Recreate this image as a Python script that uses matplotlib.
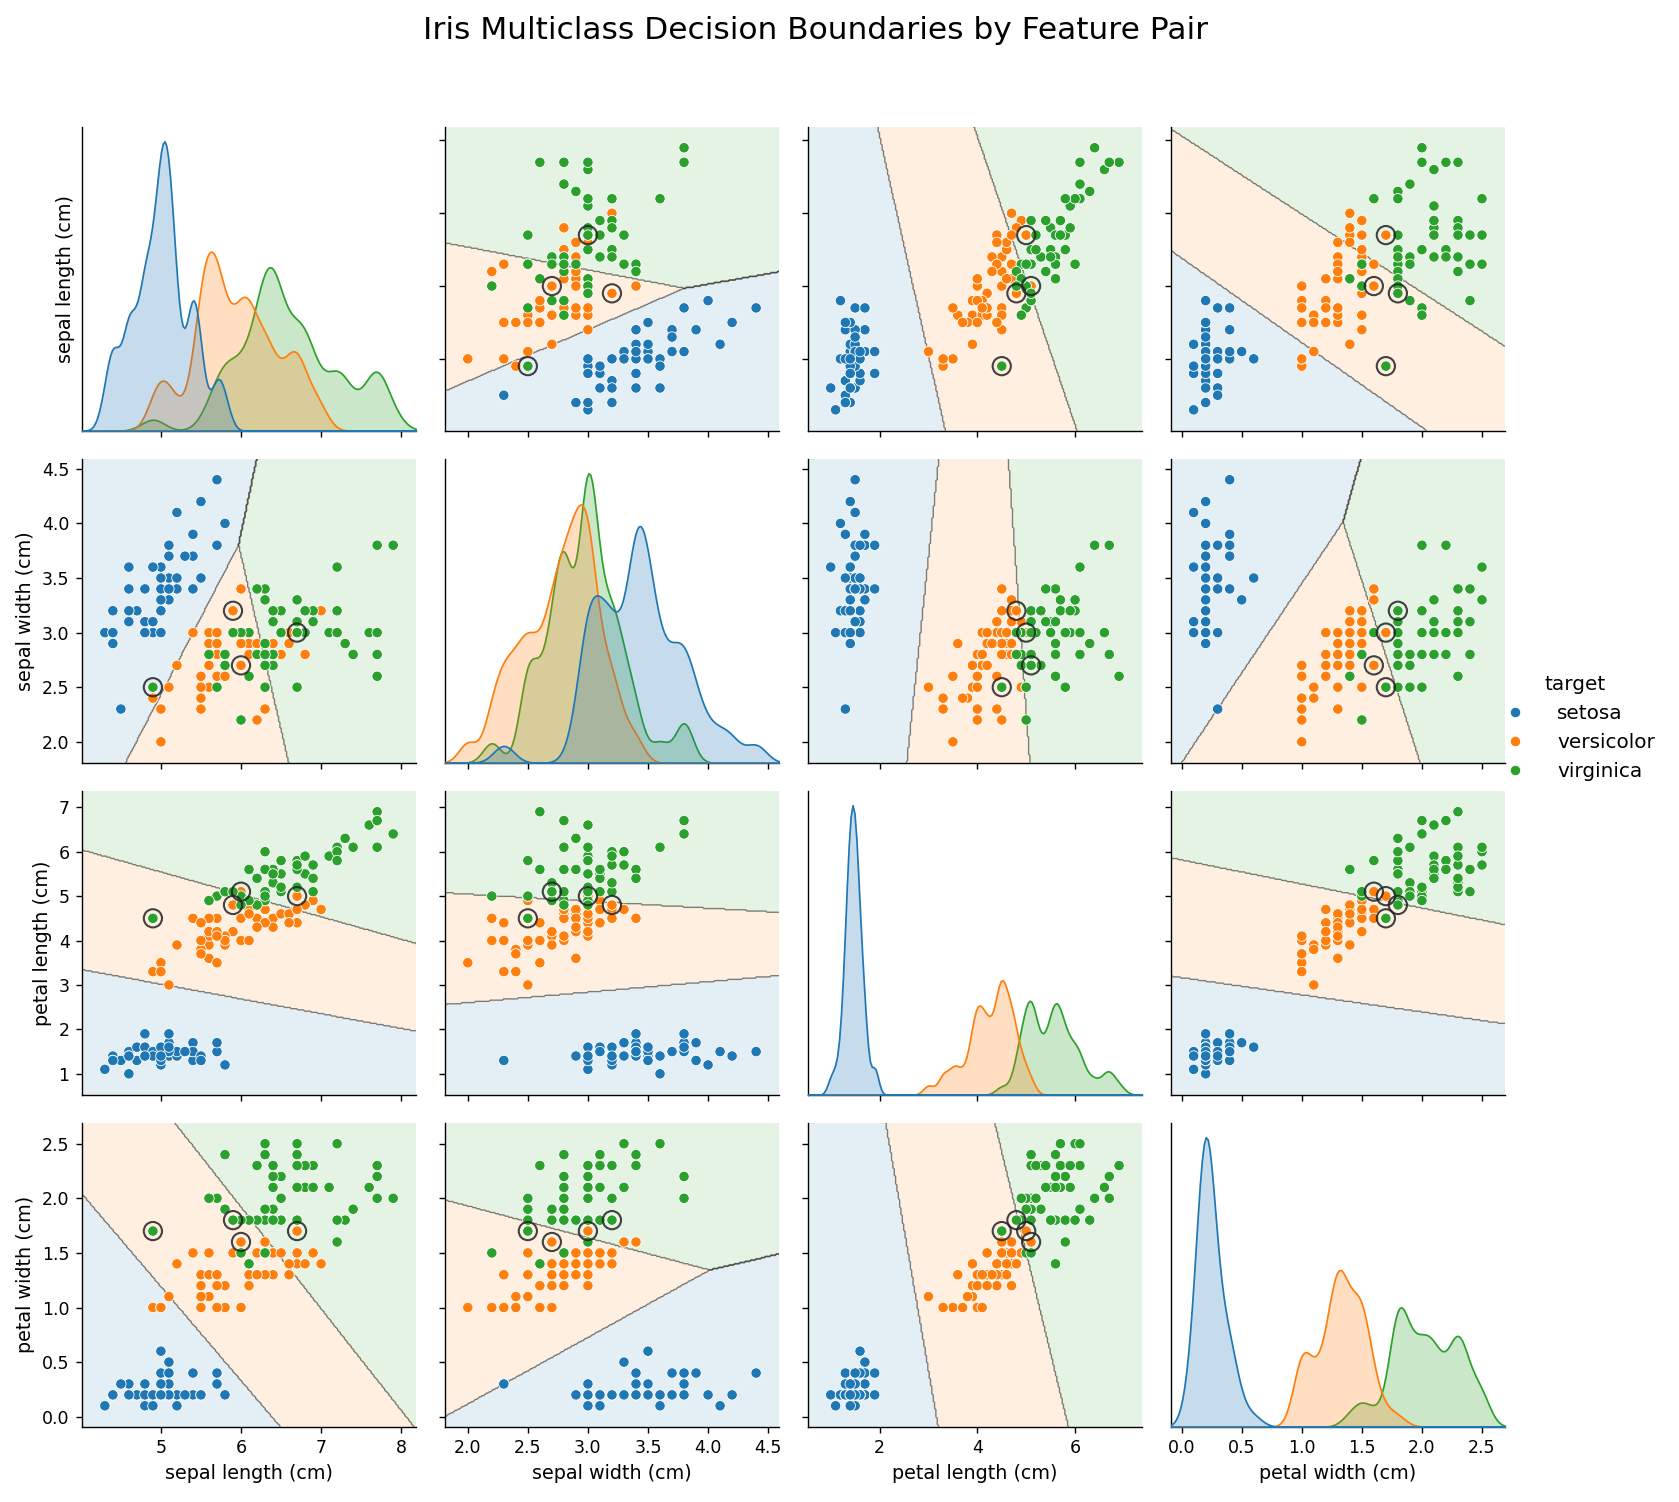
import numpy as np
import pandas as pd
import matplotlib
matplotlib.use("Agg")
import matplotlib.pyplot as plt
import seaborn as sns

# Iris measurements (cm), 50 setosa, 50 versicolor, 50 virginica
sepal_length = [
    5.1, 4.9, 4.7, 4.6, 5.0, 5.4, 4.6, 5.0, 4.4, 4.9, 5.4, 4.8, 4.8, 4.3, 5.8, 5.7, 5.4, 5.1, 5.7, 5.1,
    5.4, 5.1, 4.6, 5.1, 4.8, 5.0, 5.0, 5.2, 5.2, 4.7, 4.8, 5.4, 5.2, 5.5, 4.9, 5.0, 5.5, 4.9, 4.4, 5.1,
    5.0, 4.5, 4.4, 5.0, 5.1, 4.8, 5.1, 4.6, 5.3, 5.0,
    7.0, 6.4, 6.9, 5.5, 6.5, 5.7, 6.3, 4.9, 6.6, 5.2, 5.0, 5.9, 6.0, 6.1, 5.6, 6.7, 5.6, 5.8, 6.2, 5.6,
    5.9, 6.1, 6.3, 6.1, 6.4, 6.6, 6.8, 6.7, 6.0, 5.7, 5.5, 5.5, 5.8, 6.0, 5.4, 6.0, 6.7, 6.3, 5.6, 5.5,
    5.5, 6.1, 5.8, 5.0, 5.6, 5.7, 5.7, 6.2, 5.1, 5.7,
    6.3, 5.8, 7.1, 6.3, 6.5, 7.6, 4.9, 7.3, 6.7, 7.2, 6.5, 6.4, 6.8, 5.7, 5.8, 6.4, 6.5, 7.7, 7.7, 6.0,
    6.9, 5.6, 7.7, 6.3, 6.7, 7.2, 6.2, 6.1, 6.4, 7.2, 7.4, 7.9, 6.4, 6.3, 6.1, 7.7, 6.3, 6.4, 6.0, 6.9,
    6.7, 6.9, 5.8, 6.8, 6.7, 6.7, 6.3, 6.5, 6.2, 5.9,
]
sepal_width = [
    3.5, 3.0, 3.2, 3.1, 3.6, 3.9, 3.4, 3.4, 2.9, 3.1, 3.7, 3.4, 3.0, 3.0, 4.0, 4.4, 3.9, 3.5, 3.8, 3.8,
    3.4, 3.7, 3.6, 3.3, 3.4, 3.0, 3.4, 3.5, 3.4, 3.2, 3.1, 3.4, 4.1, 4.2, 3.1, 3.2, 3.5, 3.6, 3.0, 3.4,
    3.5, 2.3, 3.2, 3.5, 3.8, 3.0, 3.8, 3.2, 3.7, 3.3,
    3.2, 3.2, 3.1, 2.3, 2.8, 2.8, 3.3, 2.4, 2.9, 2.7, 2.0, 3.0, 2.2, 2.9, 2.9, 3.1, 3.0, 2.7, 2.2, 2.5,
    3.2, 2.8, 2.5, 2.8, 2.9, 3.0, 2.8, 3.0, 2.9, 2.6, 2.4, 2.4, 2.7, 2.7, 3.0, 3.4, 3.1, 2.3, 3.0, 2.5,
    2.6, 3.0, 2.6, 2.3, 2.7, 3.0, 2.9, 2.9, 2.5, 2.8,
    3.3, 2.7, 3.0, 2.9, 3.0, 3.0, 2.5, 2.9, 2.5, 3.6, 3.2, 2.7, 3.0, 2.5, 2.8, 3.2, 3.0, 3.8, 2.6, 2.2,
    3.2, 2.8, 2.8, 2.7, 3.3, 3.2, 2.8, 3.0, 2.8, 3.0, 2.8, 3.8, 2.8, 2.8, 2.6, 3.0, 3.4, 3.1, 3.0, 3.1,
    3.1, 3.1, 2.7, 3.2, 3.3, 3.0, 2.5, 3.0, 3.4, 3.0,
]
petal_length = [
    1.4, 1.4, 1.3, 1.5, 1.4, 1.7, 1.4, 1.5, 1.4, 1.5, 1.5, 1.6, 1.4, 1.1, 1.2, 1.5, 1.3, 1.4, 1.7, 1.5,
    1.7, 1.5, 1.0, 1.7, 1.9, 1.6, 1.6, 1.5, 1.4, 1.6, 1.6, 1.5, 1.5, 1.4, 1.5, 1.2, 1.3, 1.4, 1.3, 1.5,
    1.3, 1.3, 1.3, 1.6, 1.9, 1.4, 1.6, 1.4, 1.5, 1.4,
    4.7, 4.5, 4.9, 4.0, 4.6, 4.5, 4.7, 3.3, 4.6, 3.9, 3.5, 4.2, 4.0, 4.7, 3.6, 4.4, 4.5, 4.1, 4.5, 3.9,
    4.8, 4.0, 4.9, 4.7, 4.3, 4.4, 4.8, 5.0, 4.5, 3.5, 3.8, 3.7, 3.9, 5.1, 4.5, 4.5, 4.7, 4.4, 4.1, 4.0,
    4.4, 4.6, 4.0, 3.3, 4.2, 4.2, 4.2, 4.3, 3.0, 4.1,
    6.0, 5.1, 5.9, 5.6, 5.8, 6.6, 4.5, 6.3, 5.8, 6.1, 5.1, 5.3, 5.5, 5.0, 5.1, 5.3, 5.5, 6.7, 6.9, 5.0,
    5.7, 4.9, 6.7, 4.9, 5.7, 6.0, 4.8, 4.9, 5.6, 5.8, 6.1, 6.4, 5.6, 5.1, 5.6, 6.1, 5.6, 5.5, 4.8, 5.4,
    5.6, 5.1, 5.1, 5.9, 5.7, 5.2, 5.0, 5.2, 5.4, 5.1,
]
petal_width = [
    0.2, 0.2, 0.2, 0.2, 0.2, 0.4, 0.3, 0.2, 0.2, 0.1, 0.2, 0.2, 0.1, 0.1, 0.2, 0.4, 0.4, 0.3, 0.3, 0.3,
    0.2, 0.4, 0.2, 0.5, 0.2, 0.2, 0.4, 0.2, 0.2, 0.2, 0.2, 0.4, 0.1, 0.2, 0.2, 0.2, 0.2, 0.1, 0.2, 0.2,
    0.3, 0.3, 0.2, 0.6, 0.4, 0.3, 0.2, 0.2, 0.2, 0.2,
    1.4, 1.5, 1.5, 1.3, 1.5, 1.3, 1.6, 1.0, 1.3, 1.4, 1.0, 1.5, 1.0, 1.4, 1.3, 1.4, 1.5, 1.0, 1.5, 1.1,
    1.8, 1.3, 1.5, 1.2, 1.3, 1.4, 1.4, 1.7, 1.5, 1.0, 1.1, 1.0, 1.2, 1.6, 1.5, 1.6, 1.5, 1.3, 1.3, 1.3,
    1.2, 1.4, 1.2, 1.0, 1.3, 1.2, 1.3, 1.3, 1.1, 1.3,
    2.5, 1.9, 2.1, 1.8, 2.2, 2.1, 1.7, 1.8, 1.8, 2.5, 2.0, 1.9, 2.1, 2.0, 2.4, 2.3, 1.8, 2.2, 2.3, 1.5,
    2.3, 2.0, 2.0, 1.8, 2.1, 1.8, 1.8, 1.8, 2.1, 1.6, 1.9, 2.0, 2.2, 1.5, 1.4, 2.3, 2.4, 1.8, 1.8, 2.1,
    2.4, 2.3, 1.9, 2.3, 2.5, 2.3, 1.9, 2.0, 2.3, 1.8,
]
target = [0] * 50 + [1] * 50 + [2] * 50

target_names = ["setosa", "versicolor", "virginica"]
feature_names = ["sepal length (cm)", "sepal width (cm)", "petal length (cm)", "petal width (cm)"]
class_colors = ["#1f77b4", "#ff7f0e", "#2ca02c"]

DPI = 125


def kde_factor(kde):
    # half of Scott's bandwidth, never narrower than 0.075 cm
    std = np.std(kde.dataset, ddof=1)
    bw = max(0.5 * kde.n ** -0.2 * std, 0.075)
    return bw / std


def fit_softmax(X, y, C=1.0, n_iter=60):
    """Multinomial logistic regression with L2 penalty, fitted by Newton steps."""
    n, d = X.shape
    k = 3
    Xb = np.hstack([X, np.ones((n, 1))])
    Y = np.eye(k)[y]
    reg = np.full(d + 1, 1.0 / C)
    reg[-1] = 1e-8  # intercept is not penalised
    W = np.zeros((k, d + 1))
    for _ in range(n_iter):
        Z = Xb @ W.T
        Z -= Z.max(axis=1, keepdims=True)
        P = np.exp(Z)
        P /= P.sum(axis=1, keepdims=True)
        G = (P - Y).T @ Xb + W * reg
        H = np.zeros((k * (d + 1), k * (d + 1)))
        for a in range(k):
            for b in range(k):
                w = P[:, a] * ((a == b) - P[:, b])
                H[a * (d + 1):(a + 1) * (d + 1), b * (d + 1):(b + 1) * (d + 1)] = (Xb * w[:, None]).T @ Xb
        H += np.diag(np.tile(reg, k))
        step = np.linalg.lstsq(H, G.ravel(), rcond=None)[0]
        W -= step.reshape(k, d + 1)
    return W


def softmax_predict(W, X):
    Xb = np.hstack([X, np.ones((len(X), 1))])
    return np.argmax(Xb @ W.T, axis=1)


def nearest_centroid(X, y, Xq):
    centroids = np.array([X[y == c].mean(axis=0) for c in range(3)])
    d2 = ((Xq[:, None, :] - centroids[None, :, :]) ** 2).sum(axis=2)
    return np.argmin(d2, axis=1)


X = np.column_stack([sepal_length, sepal_width, petal_length, petal_width])
y = np.array(target)

# model on all four features -> its misclassified samples are ringed in every panel
W_full = fit_softmax(X, y)
missed = softmax_predict(W_full, X) != y

span = X.max(axis=0) - X.min(axis=0)
lo = X.min(axis=0) - 0.08 * span
hi = X.max(axis=0) + 0.08 * span

df = pd.DataFrame(X, columns=feature_names)
df["target"] = [target_names[t] for t in target]

g = sns.pairplot(df, vars=feature_names, hue="target", hue_order=target_names,
                 palette=class_colors, diag_kind="kde",
                 diag_kws={"bw_method": kde_factor, "common_grid": True})
fig = g.figure
fig.set_dpi(DPI)
fig.set_size_inches(1679 / DPI, 1502 / DPI)

n_feat = len(feature_names)
for i in range(n_feat):
    for j in range(n_feat):
        ax = g.axes[i, j]
        if i == j:
            ax.tick_params(axis="y", left=False, labelleft=False)
            continue
        xs = np.linspace(lo[j], hi[j], 250)
        ys = np.linspace(lo[i], hi[i], 250)
        xx, yy = np.meshgrid(xs, ys)
        grid = np.column_stack([xx.ravel(), yy.ravel()])
        zz = nearest_centroid(X[:, [j, i]], y, grid).reshape(xx.shape)
        ax.contourf(xx, yy, zz, levels=[-0.5, 0.5, 1.5, 2.5], colors=class_colors,
                    alpha=0.12, zorder=0)
        ax.contour(xx, yy, zz, levels=[0.5, 1.5], colors="k", linewidths=0.8,
                   alpha=0.45, zorder=0.5)
        ax.scatter(X[missed, j], X[missed, i], s=110, facecolors="none",
                   edgecolors="#222222", linewidths=1.2, alpha=0.85, zorder=3)

for j in range(n_feat):
    g.axes[0, j].set_xlim(lo[j], hi[j])
for i in range(n_feat):
    g.axes[i, 0 if i else 1].set_ylim(lo[i], hi[i])

for ax in g.axes[-1, :]:
    ax.xaxis.label.set_size(11)
for ax in g.axes[:, 0]:
    ax.yaxis.label.set_size(11)

fig.subplots_adjust(left=0.0487, right=0.8964, top=0.9156, bottom=0.0501,
                    wspace=0.085, hspace=0.092)

sns.move_legend(g, "center left", bbox_to_anchor=(0.88, 0.515), frameon=False,
                fontsize=11.5, title_fontsize=11.5, handletextpad=1.1)

fig.suptitle("Iris Multiclass Decision Boundaries by Feature Pair", fontsize=18,
             x=0.486, y=0.980, va="center")

fig.savefig("out.png", dpi=DPI)
